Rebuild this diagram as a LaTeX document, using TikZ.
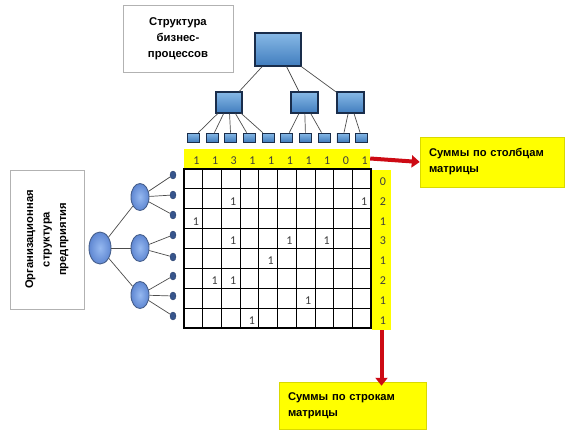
\documentclass[tikz,border=0pt]{standalone}
\usepackage{fontspec}
\setmainfont{Liberation Sans}
\newfontfamily\digitfont{Carlito}
\usetikzlibrary{arrows.meta,shapes.geometric}
\definecolor{bpdark}{RGB}{25,45,75}
\definecolor{bptop}{RGB}{135,185,230}
\definecolor{bpbot}{RGB}{65,125,190}
\definecolor{orgline}{RGB}{70,95,140}
\definecolor{orgin}{RGB}{150,185,240}
\definecolor{orgout}{RGB}{95,135,210}
\definecolor{leafblue}{RGB}{55,85,140}
\definecolor{arrowred}{RGB}{205,10,20}
\definecolor{ylw}{RGB}{255,255,0}
\definecolor{digit}{RGB}{60,60,60}
\begin{document}
\begin{tikzpicture}[x=1pt,y=-1pt,
  labelbox/.style={draw=black!30, fill=white, line width=0.8pt, align=center,
    font=\bfseries\fontsize{11.3}{16}\selectfont, inner sep=0pt},
  ybox/.style={draw=ylw!85!black, fill=ylw, line width=0.5pt, align=left,
    font=\bfseries\fontsize{11.2}{16}\selectfont, inner xsep=9pt, inner ysep=0pt},
  bprect/.style={draw=bpdark, line width=1.1pt, top color=bptop, bottom color=bpbot, inner sep=0pt},
  bpleaf/.style={bprect, line width=0.8pt, minimum width=12pt, minimum height=9pt},
  orgnode/.style={ellipse, draw=orgline, line width=0.9pt, inner color=orgin, outer color=orgout, inner sep=0pt},
  orgleaf/.style={ellipse, fill=leafblue, draw=leafblue!80!black, line width=0.4pt, minimum width=6pt, minimum height=8pt, inner sep=0pt},
  edge/.style={draw=black!70, line width=0.7pt},
  strip/.style={fill=ylw, inner sep=0pt},
  dig/.style={font=\digitfont\fontsize{12}{14}\selectfont, text=digit, inner sep=0pt},
  redarrow/.style={draw=arrowred, line width=4pt, -{Triangle[length=8pt,width=12pt]}}
]
\useasboundingbox (0,0) rectangle (575,441);

% labels
\node[labelbox, minimum width=110pt, minimum height=67pt] (bpl) at (178,38.5) {Структура\\бизнес-\\процессов};
\node[labelbox, rotate=90, minimum width=139pt, minimum height=74pt, font=\bfseries\fontsize{11.2}{16.5}\selectfont] (orgl) at (47,239.5) {Организационная\\структура\\предприятия};

% business-process tree
\node[bprect, minimum width=46pt, minimum height=33pt] (r) at (278,49.5) {};
\node[bprect, minimum width=26pt, minimum height=21pt] (b1) at (229,102.5) {};
\node[bprect, minimum width=27pt, minimum height=21pt] (b2) at (304.5,102.5) {};
\node[bprect, minimum width=27pt, minimum height=21pt] (b3) at (350.5,102.5) {};
\foreach \i in {1,...,10}
  \node[bpleaf] (t\i) at ({193.35+18.7*(\i-1)},137.5) {};
\foreach \b in {b1,b2,b3} \draw[edge] (r) -- (\b);
\foreach \i in {1,...,5} \draw[edge] (b1) -- (t\i);
\foreach \i in {6,7,8} \draw[edge] (b2) -- (t\i);
\foreach \i in {9,10} \draw[edge] (b3) -- (t\i);

% organisation tree
\node[orgnode, minimum width=22pt, minimum height=32pt] (o) at (100,248) {};
\node[orgnode, minimum width=18pt, minimum height=27pt] (o1) at (140,197) {};
\node[orgnode, minimum width=18pt, minimum height=27pt] (o2) at (140,248) {};
\node[orgnode, minimum width=18pt, minimum height=27pt] (o3) at (140,295) {};
\foreach \y [count=\i] in {175,195,215,235,257,276,296,316}
  \node[orgleaf] (l\i) at (173,\y) {};
\foreach \c in {o1,o2,o3} \draw[edge] (o) -- (\c);
\foreach \i in {1,2,3} \draw[edge] (o1) -- (l\i);
\foreach \i in {4,5} \draw[edge] (o2) -- (l\i);
\foreach \i in {6,7,8} \draw[edge] (o3) -- (l\i);

% sum strips
\node[strip, minimum width=186pt, minimum height=19pt] (cs) at (277,158.5) {};
\node[strip, minimum width=19pt, minimum height=160pt] (rs) at (381.5,250) {};

% matrix grid
\foreach \k in {1,...,9}
  \draw[black, line width=0.8pt] ({184+18.7*\k},169) -- ({184+18.7*\k},328);
\foreach \k in {1,...,7}
  \draw[black, line width=0.8pt] (184,{169+19.875*\k}) -- (371,{169+19.875*\k});
\draw[black, line width=1.6pt] (184,169) rectangle (371,328);

% matrix entries
\foreach \r/\c in {2/3,2/10,3/1,4/3,4/6,4/8,5/5,6/2,6/3,7/7,8/4}
  \node[dig] (m\r-\c) at ({184+18.7*(\c-0.5)+2.5},{169+19.875*(\r-0.5)+2.5}) {1};

% column sums
\foreach \s [count=\c] in {1,1,3,1,1,1,1,1,0,1}
  \node[dig] (cs\c) at ({184+18.7*(\c-0.5)+3},161) {\s};
% row sums
\foreach \s [count=\r] in {0,2,1,3,1,2,1,1}
  \node[dig] (rs\r) at (383,{169+19.875*(\r-0.5)+2.5}) {\s};

% result boxes
\node[ybox, minimum width=144pt, minimum height=50pt, text width=126pt] (sc) at (492,162) {Суммы по столбцам\\матрицы};
\node[ybox, minimum width=147pt, minimum height=47pt, text width=129pt] (ss) at (352.5,405.5) {Суммы по строкам\\матрицы};

% arrows
\draw[redarrow] (cs.east) -- (sc.west);
\draw[redarrow] (rs.south) -- ([yshift=-4pt]rs.south |- ss.north);
\end{tikzpicture}
\end{document}
